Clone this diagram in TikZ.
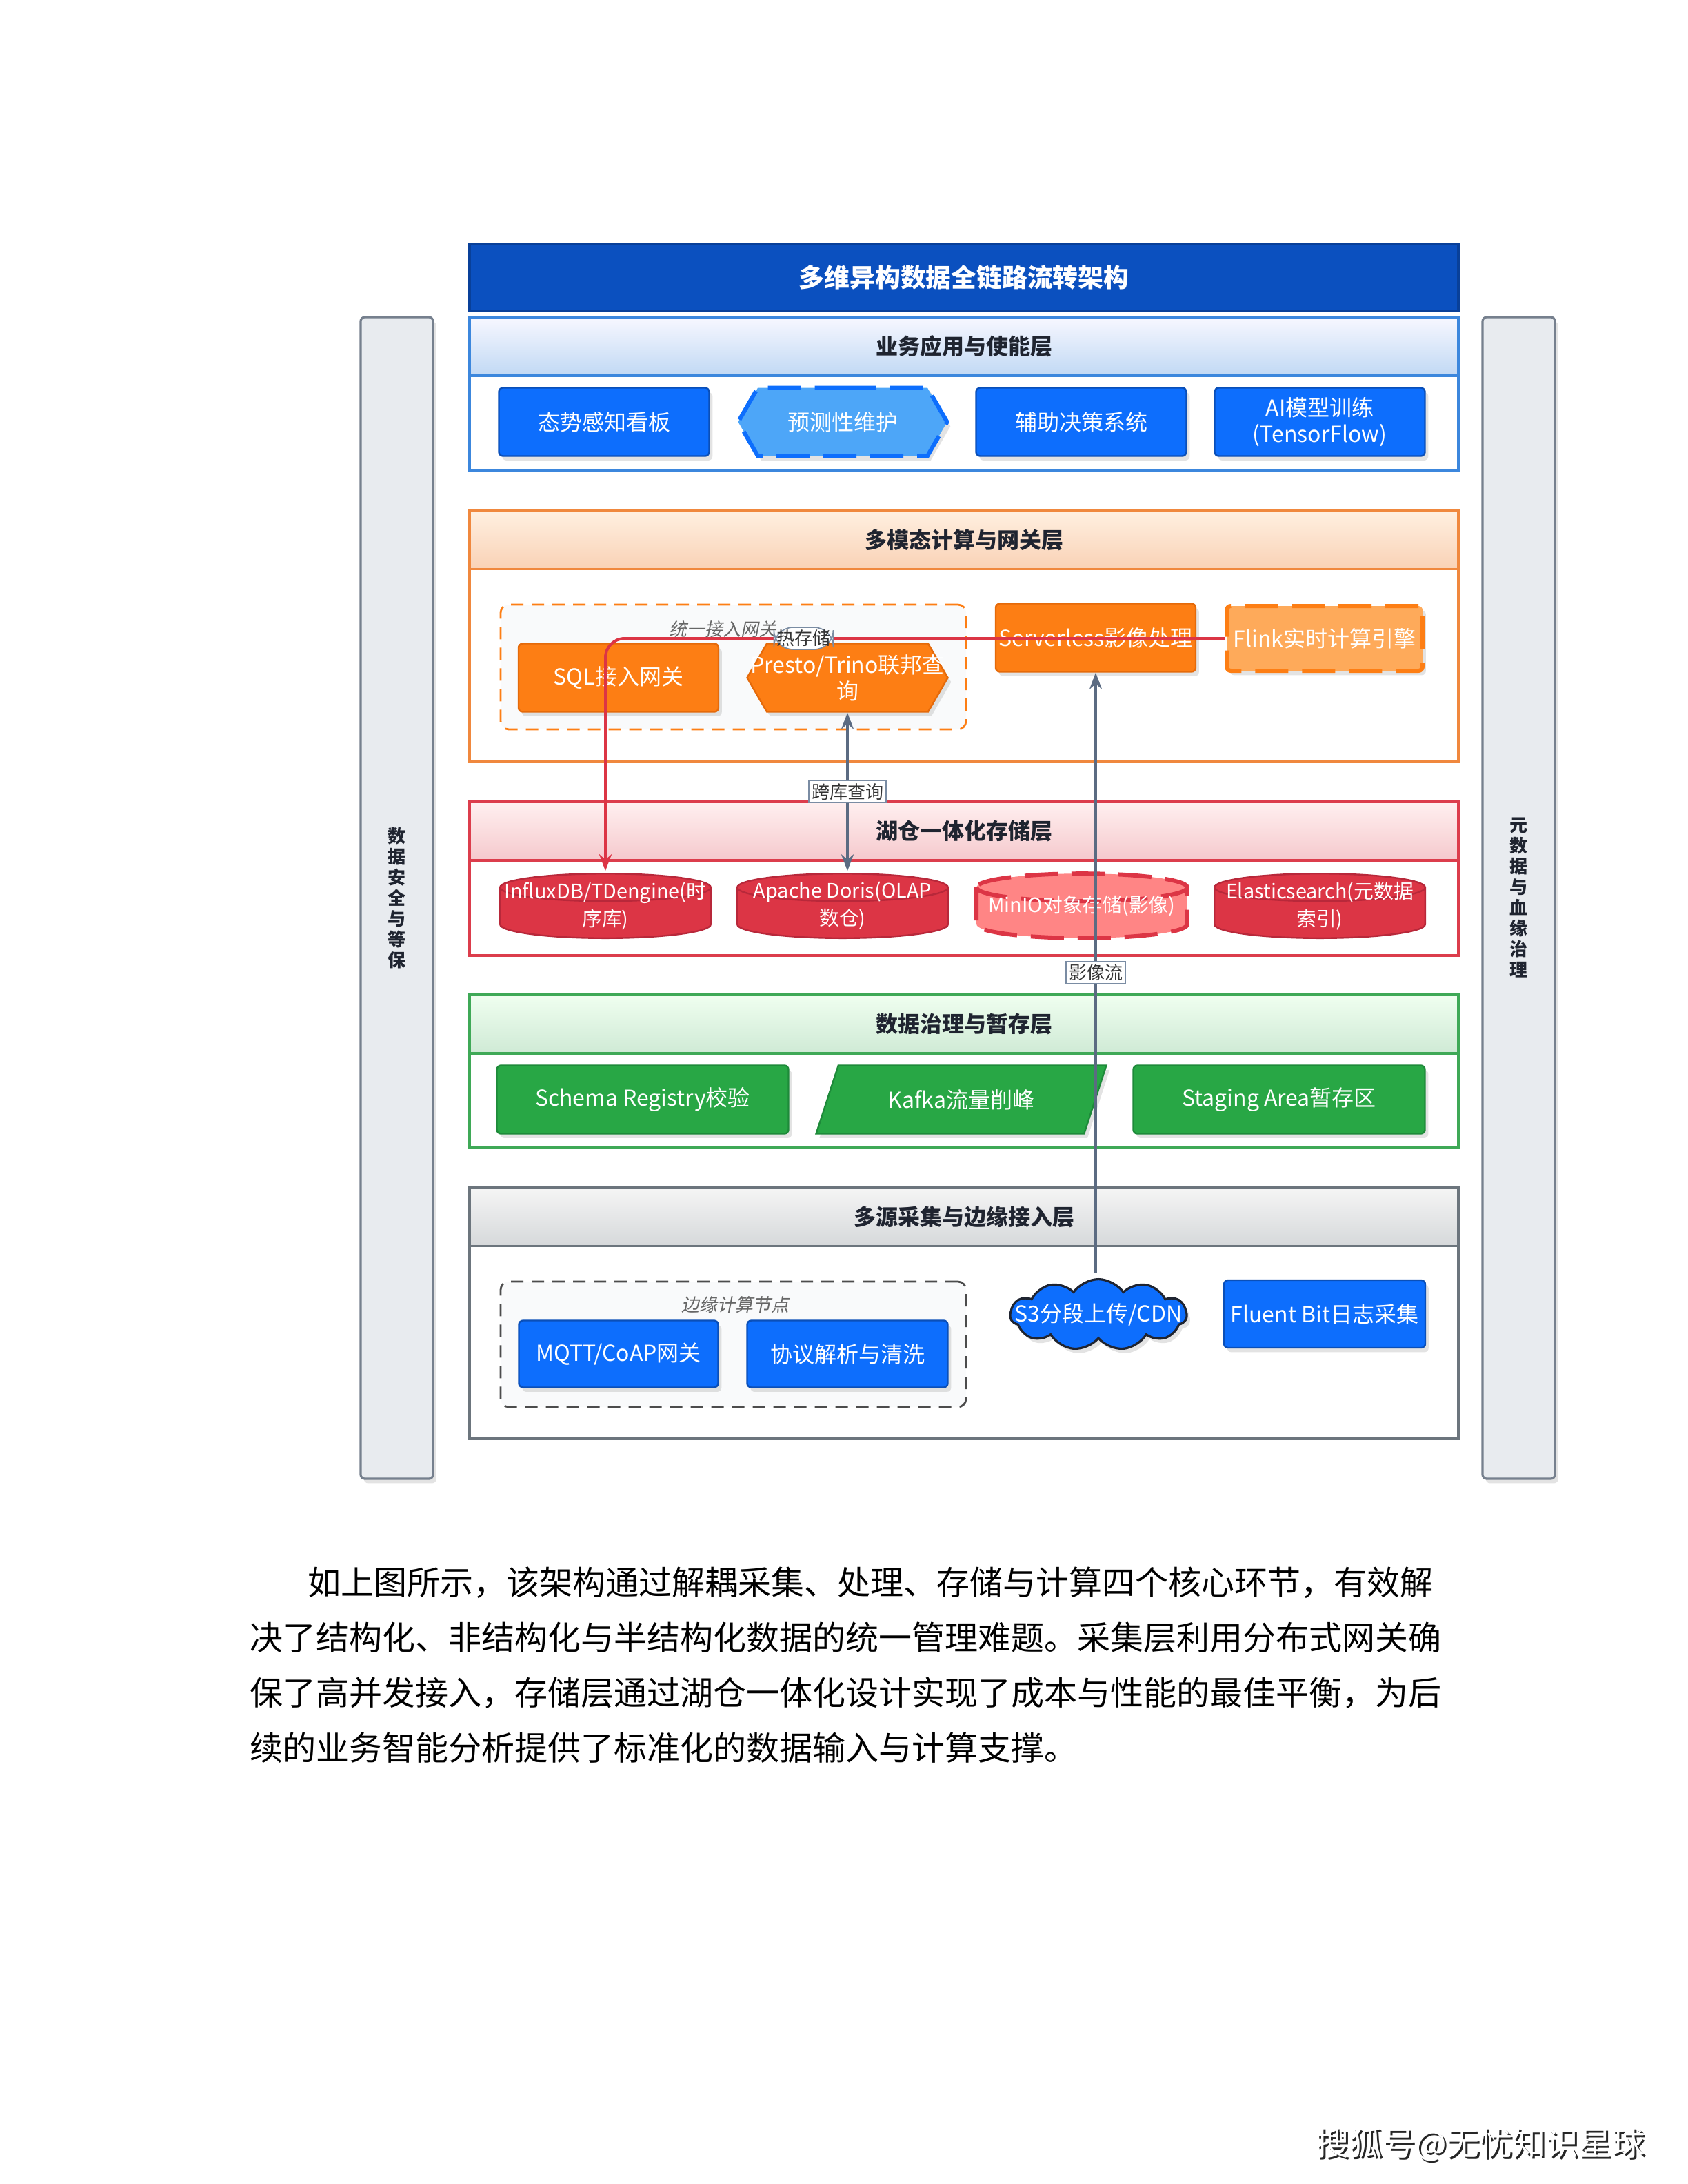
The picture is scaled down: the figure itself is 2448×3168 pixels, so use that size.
\documentclass[tikz,border=0pt]{standalone}
\usepackage{fontspec}
\setmainfont{Noto Sans CJK SC}
\newfontfamily\slantfont[FakeSlant=0.2]{Noto Sans CJK SC}
\usetikzlibrary{positioning,calc,shapes.geometric,shapes.symbols,shapes.misc,arrows.meta,shadows}

\definecolor{titleblue}{HTML}{0B50BF}
\definecolor{nodeblue}{HTML}{0D6EFD}
\definecolor{nodeblueD}{HTML}{0A4FB8}
\definecolor{lightblue}{HTML}{4DA6F8}
\definecolor{nodeorange}{HTML}{FD7E14}
\definecolor{orangeD}{HTML}{E56A0A}
\definecolor{lightorange}{HTML}{FEAA5A}
\definecolor{nodered}{HTML}{DC3545}
\definecolor{redD}{HTML}{B8283A}
\definecolor{lightred}{HTML}{FF8585}
\definecolor{nodegreen}{HTML}{28A745}
\definecolor{greenD}{HTML}{1E8A3A}
\definecolor{slate}{HTML}{5B6B82}
\definecolor{labgray}{HTML}{7A8CA3}
\definecolor{barfill}{HTML}{E8EBEF}
\definecolor{bargray}{HTML}{76808E}
\definecolor{headtext}{HTML}{1F2430}
\definecolor{grpfill}{HTML}{F9FAFB}
% layer colours
\definecolor{lOneC}{HTML}{3C87DD}
\definecolor{lTwoC}{HTML}{F0883E}
\definecolor{lThreeC}{HTML}{DC3D4C}
\definecolor{lFourC}{HTML}{3FA957}
\definecolor{lFiveC}{HTML}{6C757D}

\begin{document}
\begin{tikzpicture}[
    x=0.25pt, y=-0.25pt,
    softshadow/.style={drop shadow={opacity=0.22, shadow xshift=1.2pt, shadow yshift=-1.6pt}},
    box/.style={draw, line width=0.6pt, rounded corners=1.5pt, minimum width=76.25pt, minimum height=24.75pt, align=center, text=white, font=\fontsize{8}{9.5}\selectfont, inner sep=1pt, softshadow},
    bluebox/.style={box, fill=nodeblue, draw=nodeblueD},
    orangebox/.style={box, fill=nodeorange, draw=orangeD, minimum width=72.5pt},
    greenbox/.style={box, fill=nodegreen, draw=greenD, minimum width=105.75pt},
    hexbox/.style={box, sharp corners, shape=signal, signal to=west and east, signal pointer angle=120},
    dashbox/.style={line width=1.5pt, dash pattern=on 12pt off 5pt},
    cylpaint/.style={fill=nodered, draw=redD, line width=0.6pt},
    dbcyl/.style={minimum width=78pt, minimum height=25pt, inner sep=0pt, align=center, text=white, font=\fontsize{7.2}{10}\selectfont,
        path picture={
            \draw[cylpaint] let \p1=(path picture bounding box.south west), \p2=(path picture bounding box.north east), \n1={(\x2-\x1)/2-0.8pt} in
                (\x1+0.8pt,\y2-5.8pt) -- (\x1+0.8pt,\y1+5.8pt) arc[start angle=180, end angle=360, x radius=\n1, y radius=5pt]
                -- (\x2-0.8pt,\y2-5.8pt) arc[start angle=0, end angle=180, x radius=\n1, y radius=5pt] -- cycle
                (\x1+0.8pt,\y2-5.8pt) arc[start angle=180, end angle=360, x radius=\n1, y radius=5pt];
        }},
    layerhead/.style={draw, line width=0.8pt, minimum width=358.5pt, minimum height=21.25pt, font=\bfseries\fontsize{8}{9.5}\selectfont, text=headtext, inner sep=0pt},
    layerbody/.style={draw, line width=0.8pt, fill=white},
    sidebar/.style={draw=bargray, fill=barfill, line width=0.8pt, rounded corners=1.5pt, minimum width=26.25pt, minimum height=421.25pt, align=center, font=\bfseries\fontsize{6.5}{7.5}\selectfont, text=headtext, softshadow},
    grpbox/.style={draw, fill=grpfill, line width=0.7pt, dash pattern=on 4.5pt off 3pt, rounded corners=3pt, minimum width=168.75pt, minimum height=45.25pt, inner sep=0pt},
    grplab/.style={font=\slantfont\fontsize{6.5}{7}\selectfont, text=black!60, inner sep=0pt},
    edgelab/.style={draw=labgray, fill=white, line width=0.4pt, font=\fontsize{6.5}{7}\selectfont, text=black!80, inner sep=1pt},
    arr/.style={-{Stealth[length=6pt, width=4.5pt]}, line width=0.8pt, draw=slate},
    hotarr/.style={-{Stealth[length=6pt, width=4.5pt]}, line width=1pt, draw=nodered, rounded corners=7pt},
    para/.style={font=\fontsize{12}{20}\selectfont, anchor=base west, inner sep=0pt}
]
    \useasboundingbox (0,0) rectangle (2448,3168);

    % --- side bars ---
    \node[sidebar] (secbar) at (575.5,1302.5) {数\\据\\安\\全\\与\\等\\保};
    \node[sidebar] (metabar) at (2202.5,1302.5) {元\\数\\据\\与\\血\\缘\\治\\理};

    % --- title ---
    \node[draw=titleblue!80!black, fill=titleblue, line width=0.8pt, minimum width=358.5pt, minimum height=24.25pt, text=white, font=\bfseries\fontsize{9.2}{11}\selectfont] (title) at (1398,402.5) {多维异构数据全链路流转架构};

    % --- layer 1: applications ---
    \draw[layerbody, draw=lOneC] (681,460) rectangle (2115,682);
    \node[layerhead, draw=lOneC, top color=blue!3, bottom color=lOneC!32] (hdApp) at (1398,502.5) {业务应用与使能层};
    \node[bluebox] (dash) at (876,612) {态势感知看板};
    \node[hexbox, dashbox, fill=lightblue, draw=nodeblue, minimum width=75.75pt] (maint) at (1222,612) {预测性维护};
    \node[bluebox] (decide) at (1568,612) {辅助决策系统};
    \node[bluebox] (aitrain) at (1914,612) {AI模型训练\\(TensorFlow)};

    % --- layer 2: compute and gateway ---
    \draw[layerbody, draw=lTwoC] (681,740) rectangle (2115,1105);
    \node[layerhead, draw=lTwoC, top color=orange!12, bottom color=lTwoC!38] (hdComp) at (1398,783) {多模态计算与网关层};
    \node[grpbox, draw=nodeorange] (gwgrp) at (1063.5,967.5) {};
    \node[grplab] (gwlab) at (1048,913) {统一接入网关};
    \node[orangebox] (sqlgw) at (897,983) {SQL接入网关};
    \node[hexbox, fill=nodeorange, draw=orangeD, minimum width=72.75pt] (presto) at (1229,983) {\makebox[52pt]{Presto/Trino联邦查}\\询};
    \node[orangebox] (srv) at (1589,925) {Serverless影像处理};
    \node[orangebox, dashbox, fill=lightorange, draw=nodeorange, minimum width=71pt, minimum height=23.5pt] (flink) at (1921,926) {Flink实时计算引擎};

    % --- layer 3: lakehouse storage ---
    \draw[layerbody, draw=lThreeC] (681,1163) rectangle (2115,1386);
    \node[layerhead, draw=lThreeC, top color=red!6, bottom color=lThreeC!28] (hdStore) at (1398,1205.5) {湖仓一体化存储层};
    \node[dbcyl] (influx) at (878,1314) {\makebox[70pt]{InfluxDB/TDengine(时}\\序库)};
    \node[dbcyl] (doris) at (1222,1314) {\makebox[70pt]{Apache Doris(OLAP}\\数仓)};
    \node[dbcyl, cylpaint/.style={fill=lightred, draw=nodered, dashbox}] (minio) at (1569,1314) {\makebox[70pt]{MinIO对象存储(影像)}};
    \node[dbcyl] (es) at (1914,1314) {\makebox[70pt]{Elasticsearch(元数据}\\索引)};

    % --- layer 4: governance and staging ---
    \draw[layerbody, draw=lFourC] (681,1443) rectangle (2115,1665);
    \node[layerhead, draw=lFourC, top color=green!6, bottom color=lFourC!25] (hdGov) at (1398,1485.5) {数据治理与暂存层};
    \node[greenbox] (schema) at (932,1595) {Schema Registry校验};
    \node[greenbox, sharp corners, shape=trapezium, trapezium left angle=62, trapezium right angle=118, trapezium stretches] (kafka) at (1394,1595) {Kafka流量削峰};
    \node[greenbox] (staging) at (1855,1595) {Staging Area暂存区};

    % --- layer 5: collection and edge access ---
    \draw[layerbody, draw=lFiveC] (681,1723) rectangle (2115,2087);
    \node[layerhead, draw=lFiveC, top color=gray!8, bottom color=lFiveC!28] (hdEdge) at (1398,1765) {多源采集与边缘接入层};
    \node[grpbox, draw=black!70, minimum height=45.5pt] (edgegrp) at (1063.5,1950) {};
    \node[grplab] (edgelab) at (1066,1893) {边缘计算节点};
    \node[bluebox, minimum width=72.25pt, minimum height=24.25pt] (mqtt) at (897,1964) {MQTT/CoAP网关};
    \node[bluebox, minimum width=72.75pt, minimum height=24.25pt] (parse) at (1229,1964) {协议解析与清洗};
    \node[shape=cloud, cloud puffs=11, cloud puff arc=110, aspect=3, draw=headtext, fill=nodeblue, line width=0.8pt, minimum width=64pt, minimum height=21pt, inner sep=0.5pt, text=white, font=\fontsize{8}{9.5}\selectfont, softshadow] (s3) at (1593,1907) {\makebox[38pt]{S3分段上传/CDN}};
    \node[bluebox, minimum width=73pt, minimum height=24.5pt] (fluent) at (1921,1906) {Fluent Bit日志采集};

    % --- connectors ---
    \draw[hotarr] (flink.west) -| node[pos=0.34, edgelab] {热存储} (influx.north);
    \draw[arr, {Stealth[length=6pt, width=4.5pt]}-{Stealth[length=6pt, width=4.5pt]}] (presto.south) -- (presto.south |- doris.north) node[midway, edgelab] {跨库查询};
    \draw[arr] ([yshift=2pt]s3.north -| srv.south) -- (srv.south) node[pos=0.5, edgelab] {影像流};

    % --- text below the figure ---
    \node[para] (line1) at (446,2313) {如上图所示，该架构通过解耦采集、处理、存储与计算四个核心环节，有效解};
    \node[para] (line2) at (362,2393) {决了结构化、非结构化与半结构化数据的统一管理难题。采集层利用分布式网关确};
    \node[para] (line3) at (362,2473) {保了高并发接入，存储层通过湖仓一体化设计实现了成本与性能的最佳平衡，为后};
    \node[para] (line4) at (362,2553) {续的业务智能分析提供了标准化的数据输入与计算支撑。};

    % --- footer ---
    \node[font=\fontsize{12}{14}\selectfont, text=black!85, inner sep=0pt] (footsh) at (2150,3113) {搜狐号@无忧知识星球};
    \node[font=\fontsize{12}{14}\selectfont, text=white, inner sep=0pt] (foot) at (2147,3110) {搜狐号@无忧知识星球};
\end{tikzpicture}
\end{document}
